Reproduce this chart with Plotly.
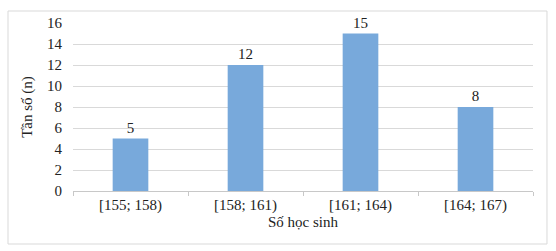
import plotly.graph_objects as go

categories = ["[155; 158)", "[158; 161)", "[161; 164)", "[164; 167)"]
values = [5, 12, 15, 8]
y_ticks = [0, 2, 4, 6, 8, 10, 12, 14, 16]

FONT = "Liberation Serif, Times New Roman, serif"

fig = go.Figure(go.Bar(
    x=categories, y=values,
    marker=dict(color="#78A9DB", line=dict(width=0)),
    text=[str(v) for v in values], textposition="outside",
    textfont=dict(family=FONT, size=15, color="#222"),
    cliponaxis=False, width=0.31,
))

fig.update_layout(
    width=556, height=251,
    margin=dict(l=73, r=23, t=23, b=60),
    paper_bgcolor="white", plot_bgcolor="white",
    font=dict(family=FONT, size=15, color="#222"),
    showlegend=False,
    xaxis=dict(
        showline=True, linecolor="#c8c8c8", linewidth=1,
        ticks="outside", tickson="boundaries", ticklen=4, tickcolor="#c8c8c8",
        title=dict(text="Số học sinh", standoff=0, font=dict(size=15)),
        tickfont=dict(size=15),
    ),
    yaxis=dict(
        range=[0, 16], tickvals=y_ticks,
        showgrid=True, gridcolor="#d9d9d9", gridwidth=1,
        zeroline=False, showline=False,
        ticklabelstandoff=10,
        title=dict(text="Tần số (n)", standoff=10, font=dict(size=15)),
        tickfont=dict(size=15),
    ),
    shapes=[dict(type="rect", xref="paper", yref="paper",
                 x0=-0.1413, x1=1.0304, y0=-0.3155, y1=1.0714,
                 line=dict(color="#d9d9d9", width=1), fillcolor="rgba(0,0,0,0)")],
)

fig.write_html("out.html")
